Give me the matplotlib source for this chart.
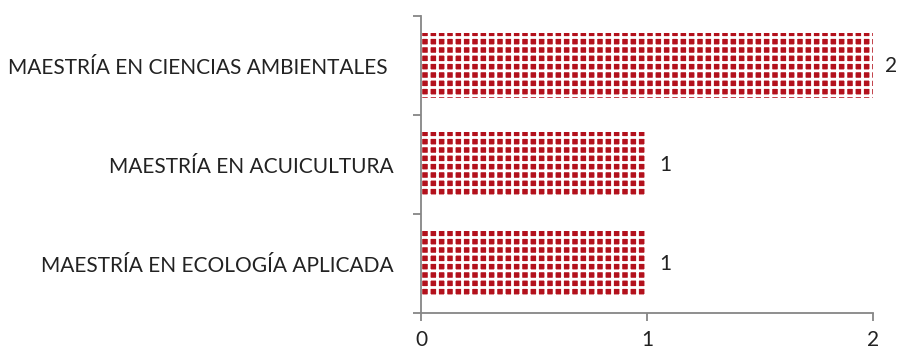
import matplotlib.pyplot as plt
import numpy as np

# data (bottom to top)
programas = ['MAESTRÍA EN ECOLOGÍA APLICADA',
             'MAESTRÍA EN ACUICULTURA',
             'MAESTRÍA EN CIENCIAS AMBIENTALES ']
cantidad = [1, 1, 2]

plt.rcParams['font.family'] = ['Lato', 'DejaVu Sans']
plt.rcParams['hatch.linewidth'] = 2.0

fig = plt.figure(figsize=(9, 3.51), dpi=100)
ax = fig.add_axes([0.468, 0.108, 0.502, 0.846])

y = np.arange(len(programas))
bars = ax.barh(y, cantidad, height=0.65, color='#B3111C',
               edgecolor='white', linewidth=0, hatch='++')

for b, v in zip(bars, cantidad):
    ax.annotate(str(v), (b.get_width(), b.get_y() + b.get_height() / 2),
                xytext=(9, 0), textcoords='offset points',
                ha='left', va='center', fontsize=15, color='#222222')

ax.set_xlim(0, 2)
ax.set_ylim(-0.5, 2.5)
ax.set_xticks([0, 1, 2])
ax.set_yticks(y)
ax.set_yticklabels(programas)
ax.set_yticks(np.arange(-0.5, 3, 1), minor=True)

for s in ['top', 'right']:
    ax.spines[s].set_visible(False)
for s in ['left', 'bottom']:
    ax.spines[s].set_color('#868686')
    ax.spines[s].set_linewidth(1.3)

ax.tick_params(axis='y', which='major', length=0, pad=20, labelsize=15,
               labelcolor='#222222')
ax.tick_params(axis='y', which='minor', length=6, width=1.3, color='#868686')
ax.tick_params(axis='x', length=6, width=1.3, color='#868686', pad=6,
               labelsize=15, labelcolor='#222222')

fig.savefig('out.png', dpi=100)
